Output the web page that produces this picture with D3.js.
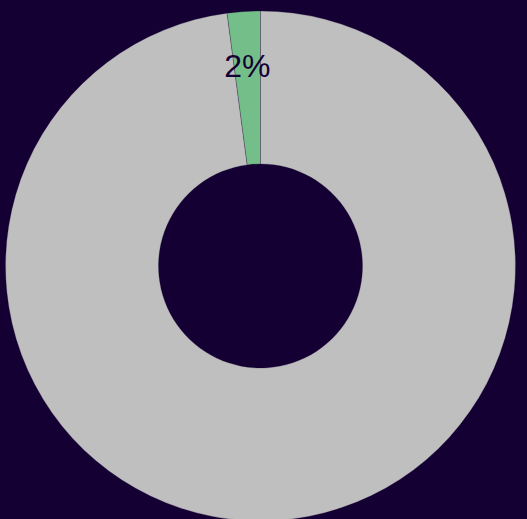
<!DOCTYPE html>
<html>
<head>
<meta charset="utf-8">
<script src="https://cdn.jsdelivr.net/npm/d3@7"></script>
<style>
  html, body { margin: 0; padding: 0; background: #140033; }
  svg { display: block; }
</style>
</head>
<body>
<script>
const categories = ["A", "B"];
const values = [2.1, 97.9];
const labels = ["2%", ""];
const colors = ["#74be89", "#bfbfbf"];

const W = 527, H = 519;
const cx = 260.5, cy = 266;
const outerR = 255, innerR = 102;

const svg = d3.select("body").append("svg").attr("width", W).attr("height", H);
svg.append("rect").attr("width", W).attr("height", H).attr("fill", "#140033");

const pie = d3.pie().sort(null).value(d => d)
  .startAngle(-2 * Math.PI * values[0] / d3.sum(values))
  .endAngle(2 * Math.PI - 2 * Math.PI * values[0] / d3.sum(values));
const arcs = pie(values);
const arc = d3.arc().innerRadius(innerR).outerRadius(outerR);
const labelArc = d3.arc().innerRadius(200).outerRadius(200);

const g = svg.append("g").attr("transform", `translate(${cx},${cy})`);
g.selectAll("path").data(arcs).enter().append("path")
  .attr("d", arc)
  .attr("fill", (d, i) => colors[i])
  .attr("stroke", "#140033")
  .attr("stroke-opacity", 0.4)
  .attr("stroke-width", 0.6);

g.selectAll("text").data(arcs).enter().append("text")
  .attr("transform", d => `translate(${labelArc.centroid(d)})`)
  .attr("text-anchor", "middle")
  .attr("dominant-baseline", "central")
  .attr("font-family", "Liberation Sans, Arial, sans-serif")
  .attr("font-size", 32)
  .attr("fill", "#140033")
  .text((d, i) => labels[i]);
</script>
</body>
</html>
